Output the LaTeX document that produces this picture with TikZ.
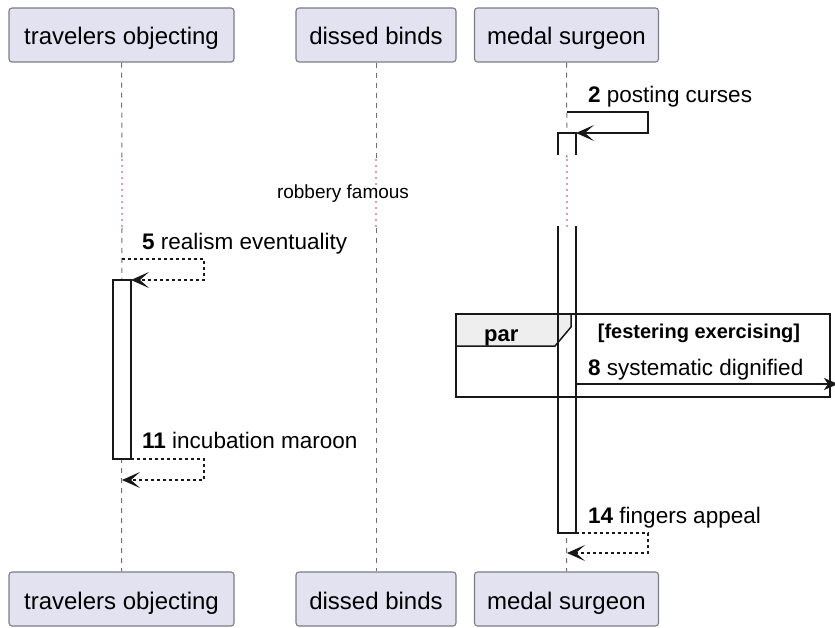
\documentclass[tikz,border=0pt]{standalone}
\usepackage{fontspec}
\setmainfont{Liberation Sans}
\usetikzlibrary{arrows.meta}
\definecolor{partfill}{HTML}{E2E2F0}
\definecolor{partdraw}{HTML}{7C7C84}
\definecolor{lifegray}{HTML}{707070}
\definecolor{delaypink}{HTML}{D0306A}
\definecolor{tabfill}{HTML}{EEEEEE}
\definecolor{ink}{HTML}{181818}

\tikzset{
  participant/.style={draw=partdraw, fill=partfill, line width=1.1pt, rounded corners=3pt,
    inner sep=0pt, minimum height=54pt, text height=20pt, text depth=0pt,
    font=\fontsize{24}{28}\selectfont},
  lifeline/.style={draw=lifegray, line width=1pt, dash pattern=on 5pt off 5pt},
  delayline/.style={draw=delaypink, line width=1.6pt, line cap=round, dash pattern=on 0pt off 6pt},
  actbar/.style={draw=ink, fill=white, line width=1.4pt},
  barside/.style={draw=ink, line width=1.4pt},
  msg/.style={draw=ink, line width=1.5pt, -{Stealth[length=18pt,width=16pt,inset=9pt]}},
  reply/.style={msg, dash pattern=on 3pt off 3pt},
  mlabel/.style={font=\fontsize{22.5}{26}\selectfont, anchor=base west, inner sep=0pt},
  dlabel/.style={font=\fontsize{19}{22}\selectfont, anchor=base, inner sep=0pt},
  frame/.style={draw=ink, line width=2pt},
  tab/.style={draw=ink, fill=tabfill, line width=1.5pt},
}

\begin{document}
\begin{tikzpicture}[x=1pt, y=-1pt]
  \useasboundingbox (0,0) rectangle (835,628);

  % participants, top and bottom
  \node[participant, minimum width=225pt] (tA) at (121.5,35) {travelers objecting};
  \node[participant, minimum width=160pt] (tB) at (376,35) {dissed binds};
  \node[participant, minimum width=184pt] (tC) at (566.5,35) {medal surgeon};
  \node[participant, minimum width=225pt] (bA) at (121.5,599) {travelers objecting};
  \node[participant, minimum width=160pt] (bB) at (376,599) {dissed binds};
  \node[participant, minimum width=184pt] (bC) at (566.5,599) {medal surgeon};

  % delay band
  \coordinate (dA1) at (122,160); \coordinate (dA2) at (122,228);
  \coordinate (dB1) at (376,160); \coordinate (dB2) at (376,228);
  \coordinate (dC1) at (567,160); \coordinate (dC2) at (567,228);

  % lifelines
  \draw[lifeline] (tA.south) -- (dA1);
  \draw[delayline] (dA1) -- (dA2);
  \draw[lifeline] (dA2) -- (bA.north);
  \draw[lifeline] (tB.south) -- (dB1);
  \draw[delayline] (dB1) -- (dB2);
  \draw[lifeline] (dB2) -- (bB.north);
  \draw[lifeline] (tC.south) -- (dC1);
  \draw[lifeline] (dC2) -- (bC.north);

  % activation bars (fills first, the par fragment goes over them)
  \node[actbar, minimum width=18pt, minimum height=179pt, inner sep=0pt] (barA) at (122,369.5) {};
  \fill[white] (558,133) rectangle (576,155);
  \draw[barside] (558,155) -- (558,133) -- (576,133) -- (576,155);
  \fill[white] (558,226) rectangle (576,533);
  \draw[delayline] (dC1) -- (dC2);

  % par fragment
  \draw[tab] (456,314) -- (571,314) -- (571,327) -- (555,346) -- (456,346) -- cycle;
  \draw[frame] (456,314) rectangle (830,397);
  \node[font=\bfseries\fontsize{22}{26}\selectfont, anchor=base west, inner sep=0pt] (par) at (484,341) {par};
  \node[font=\bfseries\fontsize{20}{24}\selectfont, anchor=base, inner sep=0pt] (guard) at (699,338) {[festering exercising]};

  % sides of the lower bar of medal surgeon, drawn across the fragment
  \draw[barside] (558,226) -- (558,533) -- (576,533) -- (576,226);

  \node[dlabel] (delay) at (343,199) {robbery famous};

  % message 2
  \coordinate (m2a) at (567,112);
  \coordinate (m2b) at (576,133);
  \draw[msg] (m2a) -- (648,112) -- (648,133) -- (m2b);
  \node[mlabel] (l2) at (588,103) {\textbf{2} posting curses};

  % message 5
  \coordinate (m5a) at (122,259);
  \coordinate (m5b) at (131,280);
  \draw[reply] (m5a) -- (204,259) -- (204,280) -- (m5b);
  \node[mlabel] (l5) at (142,250) {\textbf{5} realism eventuality};

  % message 8
  \coordinate (m8a) at (576,384);
  \coordinate (m8b) at (838,384);
  \draw[draw=ink, line width=1.5pt, -{Stealth[length=14pt,width=12pt,inset=4pt]}] (m8a) -- (m8b);
  \node[mlabel] (l8) at (588,375) {\textbf{8} systematic dignified};

  % message 11
  \coordinate (m11a) at (131,459);
  \coordinate (m11b) at (122,480);
  \draw[reply] (m11a) -- (204,459) -- (204,480) -- (m11b);
  \node[mlabel] (l11) at (142,448) {\textbf{11} incubation maroon};

  % message 14
  \coordinate (m14a) at (576,533);
  \coordinate (m14b) at (567,553);
  \draw[reply] (m14a) -- (648,533) -- (648,553) -- (m14b);
  \node[mlabel] (l14) at (588,523) {\textbf{14} fingers appeal};
\end{tikzpicture}
\end{document}
